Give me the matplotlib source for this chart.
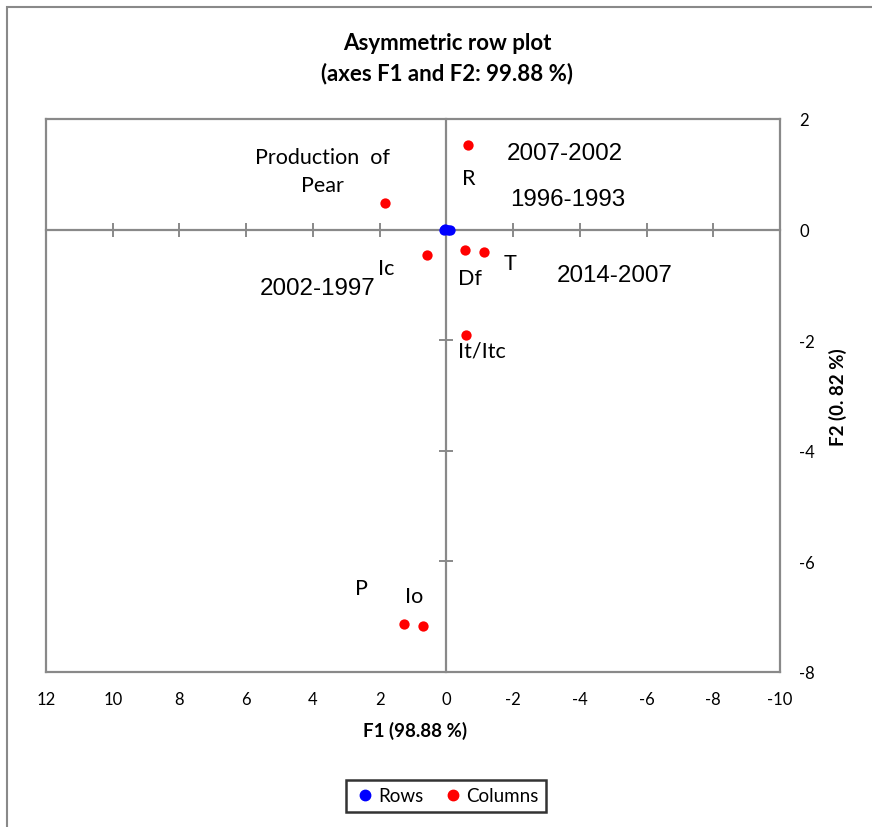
import matplotlib
matplotlib.use("Agg")
import matplotlib.pyplot as plt
from matplotlib.lines import Line2D
from matplotlib.patches import Rectangle

plt.rcParams["axes.unicode_minus"] = False

# ---- data ----
row_labels = ["1996-1993", "2002-1997", "2007-2002", "2014-2007"]
row_f1 = [0.08, 0.03, -0.04, -0.10]
row_f2 = [0.00, 0.01, -0.01, 0.00]

col_labels = ["Production  of\nPear", "R", "Ic", "Df", "T", "It/Itc", "P", "Io"]
col_f1 = [1.84, -0.65, 0.58, -0.56, -1.13, -0.59, 1.27, 0.70]
col_f2 = [0.48, 1.53, -0.46, -0.37, -0.40, -1.90, -7.13, -7.17]

x_ticks = [12, 10, 8, 6, 4, 2, 0, -2, -4, -6, -8, -10]
y_ticks = [2, 0, -2, -4, -6, -8]

# label placement (data coords, layout only)
row_label_pos = {"1996-1993": (-3.64, 0.55), "2002-1997": (3.85, -1.06),
                 "2007-2002": (-3.55, 1.38), "2014-2007": (-5.05, -0.82)}
col_label_pos = {"Production  of\nPear": (3.7, 1.06), "R": (-0.68, 0.93),
                 "Ic": (1.81, -0.70), "Df": (-0.71, -0.87), "T": (-1.9, -0.6),
                 "It/Itc": (-1.07, -2.19), "P": (2.56, -6.48), "Io": (0.97, -6.63)}

GRAY = "#898989"
LAB_FONT = "Lato"
YEAR_FONT = "Liberation Sans"

fig = plt.figure(figsize=(8.72, 8.28), dpi=100)

# outer chart-area frame (cropped at right/bottom)
fig.add_artist(Rectangle((7 / 872, -0.1), 1.2, 1 - 8 / 828 + 0.1,
                         transform=fig.transFigure, fill=False,
                         edgecolor=GRAY, linewidth=1.5))

pos = [46 / 872, 1 - 673 / 828, (780 - 46) / 872, (673 - 120) / 828]
ax = fig.add_axes(pos)
ax.set_xlim(12, -10)
ax.set_ylim(-8, 2)
ax.set_xticks(x_ticks)
ax.set_yticks(y_ticks)
ax.tick_params(axis="x", length=0, pad=14, labelsize=12)
ax.tick_params(axis="y", length=0, pad=14, labelsize=12, left=False,
               labelleft=False, right=True, labelright=True)
for lab in ax.get_xticklabels() + ax.get_yticklabels():
    lab.set_fontfamily(LAB_FONT)
for s in ax.spines.values():
    s.set_color(GRAY)
    s.set_linewidth(1.6)

# zero-crossing axes with tick marks
ax2 = fig.add_axes(pos, sharex=ax, sharey=ax)
ax2.patch.set_visible(False)
ax2.spines["top"].set_visible(False)
ax2.spines["right"].set_visible(False)
ax2.spines["left"].set_position(("data", 0))
ax2.spines["bottom"].set_position(("data", 0))
for k in ("left", "bottom"):
    ax2.spines[k].set_color(GRAY)
    ax2.spines[k].set_linewidth(1.6)
ax2.tick_params(axis="both", direction="inout", length=10, width=1.4,
                color=GRAY, labelbottom=False, labelleft=False,
                labelright=False, labeltop=False)
ax2.set_xticks(x_ticks)
ax2.set_yticks(y_ticks)

ax2.scatter(row_f1, row_f2, s=55, color="#0000FF", zorder=5, linewidths=0)
ax2.scatter(col_f1, col_f2, s=55, color="#FF0000", zorder=5, linewidths=0)

for lab in row_labels:
    x, y = row_label_pos[lab]
    ax2.text(x, y, lab, ha="center", va="center", fontsize=17.4,
             family=YEAR_FONT, color="black")
for lab in col_labels:
    x, y = col_label_pos[lab]
    ax2.text(x, y, lab, ha="center", va="center", fontsize=15.5,
             family=LAB_FONT, color="black", linespacing=1.5)

fig.text(447 / 872, 1 - 44 / 828, "Asymmetric row plot", ha="center",
         va="center", fontsize=16, fontweight="bold", family=LAB_FONT)
fig.text(447 / 872, 1 - 74 / 828, "(axes F1 and F2: 99.88 %)", ha="center",
         va="center", fontsize=16, fontweight="bold", family=LAB_FONT)
fig.text(415 / 872, 1 - 731 / 828, "F1 (98.88 %)", ha="center", va="center",
         fontsize=13.5, fontweight="bold", family=LAB_FONT)
fig.text(838 / 872, 1 - 397 / 828, "F2 (0. 82 %)", ha="center", va="center",
         fontsize=13.5, fontweight="bold", family=LAB_FONT, rotation=90)

handles = [Line2D([], [], marker="o", linestyle="", color="#0000FF", markersize=7.5),
           Line2D([], [], marker="o", linestyle="", color="#FF0000", markersize=7.5)]
leg = fig.legend(handles, ["Rows", "Columns"], loc="center",
                 bbox_to_anchor=(446 / 872, 1 - 797 / 828), ncol=2,
                 frameon=True, fancybox=False, handletextpad=0.1,
                 columnspacing=1.0, handlelength=1.2,
                 prop={"family": LAB_FONT, "size": 13.5})
leg.get_frame().set_edgecolor("black")
leg.get_frame().set_linewidth(1.8)

fig.savefig("out.png", dpi=100)
